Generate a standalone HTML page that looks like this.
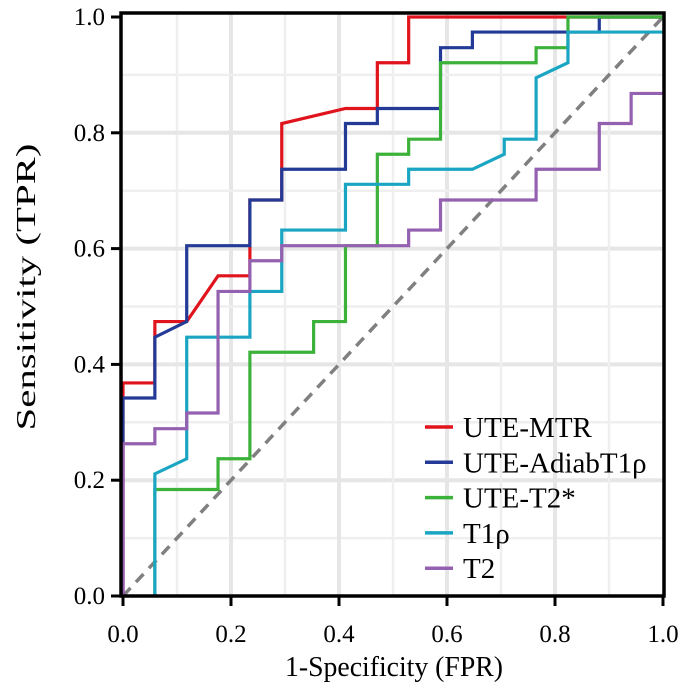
<!DOCTYPE html>
<html><head><meta charset="utf-8"><style>
html,body{margin:0;padding:0;background:#fff;}
svg{display:block;font-family:"Liberation Serif",serif;}
</style></head><body>
<svg id="chart" width="685" height="692" viewBox="0 0 685 692">
<g id="grid"></g>
<line x1="123" y1="596" x2="663" y2="17" stroke="#808080" stroke-width="3.5" stroke-dasharray="11,8"/>
<g id="series"></g>
<rect x="121" y="13" width="543" height="583" fill="none" stroke="#000" stroke-width="3.5"/>
<g id="axes"></g>
<text x="394" y="676" text-anchor="middle" font-size="29" textLength="218" lengthAdjust="spacingAndGlyphs">1-Specificity (FPR)</text>
<text transform="translate(35,287) rotate(-90)" text-anchor="middle" font-size="27" textLength="287" lengthAdjust="spacingAndGlyphs">Sensitivity (TPR)</text>
<g id="legend"></g>
</svg>
<script>
const names = ["UTE-MTR","UTE-AdiabT1ρ","UTE-T2*","T1ρ","T2"];
const colors = ["#e0141c","#233a96","#3db23a","#1aa5c3","#9460b0"];
const redX = [0,0,0.059,0.059,0.118,0.176,0.235,0.235,0.235,0.294,0.294,0.412,0.471,0.471,0.529,0.529,1];
const redY = [0,0.368,0.368,0.474,0.474,0.553,0.553,0.58,0.684,0.684,0.816,0.842,0.842,0.921,0.921,1,1];
const blueX = [0,0,0.059,0.059,0.118,0.118,0.235,0.235,0.294,0.294,0.412,0.412,0.471,0.471,0.588,0.588,0.647,0.647,0.882,0.882,1];
const blueY = [0,0.342,0.342,0.447,0.474,0.605,0.605,0.684,0.684,0.737,0.737,0.816,0.816,0.842,0.842,0.947,0.947,0.974,0.974,1,1];
const greenX = [0.059,0.059,0.176,0.176,0.235,0.235,0.353,0.353,0.412,0.412,0.471,0.471,0.529,0.529,0.588,0.588,0.765,0.765,0.824,0.824,1];
const greenY = [0,0.184,0.184,0.237,0.237,0.421,0.421,0.474,0.474,0.605,0.605,0.763,0.763,0.789,0.789,0.921,0.921,0.947,0.947,1,1];
const cyanX = [0.059,0.059,0.118,0.118,0.235,0.235,0.294,0.294,0.412,0.412,0.529,0.529,0.647,0.706,0.706,0.765,0.765,0.824,0.824,1];
const cyanY = [0,0.211,0.237,0.447,0.447,0.526,0.526,0.632,0.632,0.711,0.711,0.737,0.737,0.763,0.789,0.789,0.895,0.921,0.974,0.974];
const purpleX = [0,0,0.059,0.059,0.118,0.118,0.176,0.176,0.235,0.235,0.294,0.294,0.529,0.529,0.588,0.588,0.765,0.765,0.882,0.882,0.941,0.941,1];
const purpleY = [0,0.263,0.263,0.289,0.289,0.316,0.316,0.526,0.526,0.579,0.579,0.605,0.605,0.632,0.632,0.684,0.684,0.737,0.737,0.816,0.816,0.868,0.868];
const tickLabels = ["0.0","0.2","0.4","0.6","0.8","1.0"];
const tickValues = [0,0.2,0.4,0.6,0.8,1.0];

const NS="http://www.w3.org/2000/svg";
const sx = v => 123 + v*540;
const sy = v => 596 - v*579;
function mk(tag, attrs, parent){const e=document.createElementNS(NS,tag);for(const k in attrs)e.setAttribute(k,attrs[k]);parent.appendChild(e);return e;}

const grid=document.getElementById('grid');
for(let i=1;i<10;i++){
  const v=i/10, w=(i%2==0)?4:2.5, c=(i%2==0)?'#e6e6e6':'#efefef';
  const gx=mk('line',{x1:sx(v),x2:sx(v),y1:13,y2:596,stroke:c,'stroke-width':w},grid);
  
  
  const gy=mk('line',{x1:121,x2:664,y1:sy(v),y2:sy(v),stroke:c,'stroke-width':w},grid);
  
  
}

const seriesX=[redX,blueX,greenX,cyanX,purpleX];
const seriesY=[redY,blueY,greenY,cyanY,purpleY];
const sg=document.getElementById('series');
for(let s=0;s<seriesX.length;s++){
  const pts=seriesX[s].map((x,i)=>sx(x)+','+sy(seriesY[s][i])).join(' ');
  const p=mk('polyline',{points:pts,fill:'none',stroke:colors[s],'stroke-width':3.2,'stroke-linejoin':'miter'},sg);
  
  
}

const ax=document.getElementById('axes');
tickValues.forEach((v,i)=>{
  const t1=mk('line',{x1:sx(v),x2:sx(v),y1:596,y2:606,stroke:'#000','stroke-width':3},ax);
  
  
  const l1=mk('text',{x:sx(v),y:642,'text-anchor':'middle','font-size':25},ax);
  l1.textContent=tickLabels[i];
  
  
  const t2=mk('line',{x1:111,x2:121,y1:sy(v),y2:sy(v),stroke:'#000','stroke-width':3},ax);
  
  
  const l2=mk('text',{x:105,y:sy(v)+8,'text-anchor':'end','font-size':25},ax);
  l2.textContent=tickLabels[i];
  
  
});

const lg=document.getElementById('legend');
names.forEach((n,i)=>{
  const y=427+i*35.3;
  const g=mk('g',{},lg);
  
  
  mk('line',{x1:425,x2:453,y1:y,y2:y,stroke:colors[i],'stroke-width':3.5},g);
  const t=mk('text',{x:463,y:y+10,'font-size':29},g);
  t.textContent=n;
});
</script>
</body></html>
